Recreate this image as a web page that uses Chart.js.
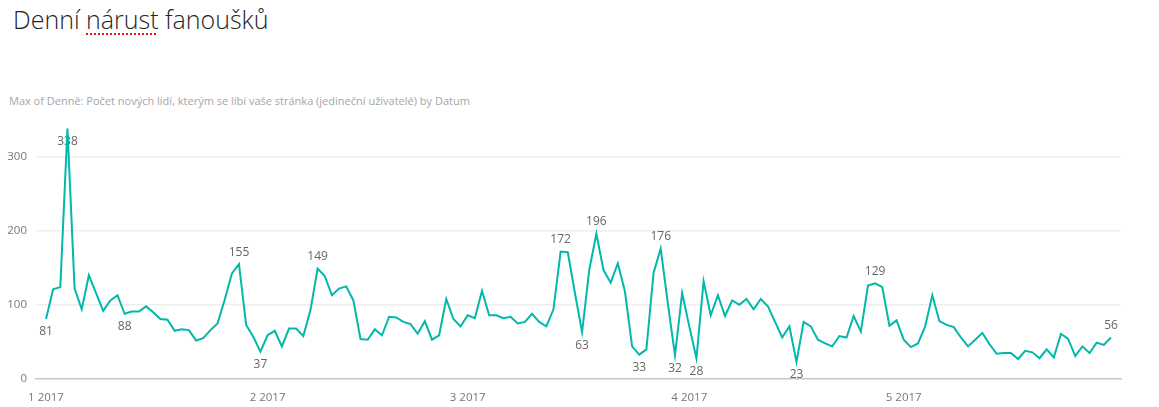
<!DOCTYPE html>
<html>
<head>
<meta charset="utf-8">
<script src="https://cdn.jsdelivr.net/npm/chart.js@4/dist/chart.umd.min.js"></script>
<style>
    html, body { margin: 0; padding: 0; background: #fff; }
    #wrap { position: relative; width: 1159px; height: 407px; overflow: hidden; }
    #title {
        position: absolute; left: 13px; top: 2px;
        font-family: "Open Sans", "Noto Sans", sans-serif; font-weight: 300;
        font-size: 25px; color: #252423; white-space: nowrap;
    }
    #title .spell {
        text-decoration: underline dotted #e81123;
        text-decoration-thickness: 1.5px;
        text-underline-offset: 4px;
    }
    #subtitle {
        position: absolute; left: 9px; top: 93px;
        font-family: "Open Sans", "Noto Sans", sans-serif;
        font-size: 11px; color: #a6a6a6; white-space: nowrap;
    }
    canvas { position: absolute; left: 0; top: 0; }
</style>
</head>
<body>
<div id="wrap">
    <div id="title">Denní <span class="spell">nárust</span> fanoušků</div>
    <div id="subtitle">Max of Denně: Počet nových lidí, kterým se líbí vaše stránka (jedineční uživatelé) by Datum</div>
    <canvas id="chart" width="1159" height="407"></canvas>
</div>
<script>
// daily values, 1 Jan 2017 .. 30 May 2017
const fans = [
    81, 121, 124, 338, 122, 94, 140, 116, 92, 106,
    113, 88, 91, 91, 98, 90, 81, 80, 65, 67,
    66, 52, 55, 66, 75, 107, 142, 155, 73, 57,
    37, 59, 65, 44, 68, 68, 58, 93, 149, 139,
    113, 122, 125, 106, 54, 53, 67, 59, 84, 83,
    77, 74, 61, 78, 53, 59, 108, 81, 71, 86,
    82, 119, 86, 86, 82, 84, 75, 77, 88, 77,
    71, 94, 172, 171, 116, 63, 147, 196, 147, 130,
    156, 118, 44, 33, 40, 143, 176, 102, 32, 116,
    71, 28, 132, 86, 113, 85, 106, 100, 108, 94,
    108, 98, 77, 56, 71, 23, 77, 71, 53, 48,
    44, 58, 56, 85, 64, 126, 129, 124, 72, 79,
    53, 43, 48, 71, 113, 78, 73, 70, 56, 44,
    53, 62, 47, 34, 35, 35, 27, 38, 36, 28,
    40, 29, 61, 54, 31, 44, 35, 49, 46, 56
];

// day index of each month start and its axis label
const monthDays = [0, 31, 59, 90, 120];
const monthLabels = ["1 2017", "2 2017", "3 2017", "4 2017", "5 2017"];

const yTicks = [0, 100, 200, 300];

// points that carry a data label
const labelledDays = [0, 3, 11, 27, 30, 38, 72, 75, 77, 83, 86, 88, 91, 105, 116, 149];

const C_LINE = "#01B8AA";
const FONT = "'Open Sans', 'Noto Sans', sans-serif";

const dataLabels = {
    id: "dataLabels",
    beforeDatasetsDraw(chart) {
        const {ctx, chartArea} = chart;
        const meta = chart.getDatasetMeta(0);
        ctx.save();
        ctx.font = "12px " + FONT;
        ctx.fillStyle = "#666";
        ctx.textAlign = "center";
        ctx.textBaseline = "middle";
        labelledDays.forEach(i => {
            const p = meta.data[i];
            const v = fans[i];
            const prev = i > 0 ? fans[i - 1] : -Infinity;
            const next = i < fans.length - 1 ? fans[i + 1] : -Infinity;
            let above = v >= prev && v >= next;
            if (above && p.y - 14 < chartArea.top) above = false;
            ctx.fillText(String(v), p.x, above ? p.y - 12 : p.y + 13);
        });
        ctx.restore();
    }
};

new Chart(document.getElementById("chart"), {
    type: "line",
    data: {
        datasets: [{
            data: fans.map((v, i) => ({x: i, y: v})),
            borderColor: C_LINE,
            borderWidth: 2,
            pointRadius: 0,
            tension: 0,
            fill: false,
        }],
    },
    options: {
        responsive: false,
        animation: false,
        events: [],
        layout: {padding: {left: 0, top: 127, right: 38, bottom: 0}},
        plugins: {legend: {display: false}, tooltip: {enabled: false}},
        scales: {
            x: {
                type: "linear",
                min: -1.4,
                max: fans.length - 1 + 1.4,
                afterBuildTicks: (s) => { s.ticks = monthDays.map(v => ({value: v})); },
                afterFit: (s) => { s.height = 28; },
                grid: {display: false},
                border: {display: true, color: "#c8c8c8", width: 1.5},
                ticks: {
                    autoSkip: false,
                    maxRotation: 0,
                    padding: 4,
                    color: "#777",
                    font: {family: FONT, size: 11.5},
                    callback: (v) => monthLabels[monthDays.indexOf(v)] ?? "",
                },
            },
            y: {
                type: "linear",
                min: 0,
                max: 340,
                afterBuildTicks: (s) => { s.ticks = yTicks.map(v => ({value: v})); },
                afterFit: (s) => { s.width = 36; },
                border: {display: false},
                grid: {
                    drawTicks: false,
                    color: (c) => c.tick && c.tick.value === 0 ? "rgba(0,0,0,0)" : "#eeeeee",
                    lineWidth: 1.5,
                },
                ticks: {
                    padding: 9,
                    color: "#777",
                    font: {family: FONT, size: 11.5},
                },
            },
        },
    },
    plugins: [dataLabels],
});
</script>
</body>
</html>
